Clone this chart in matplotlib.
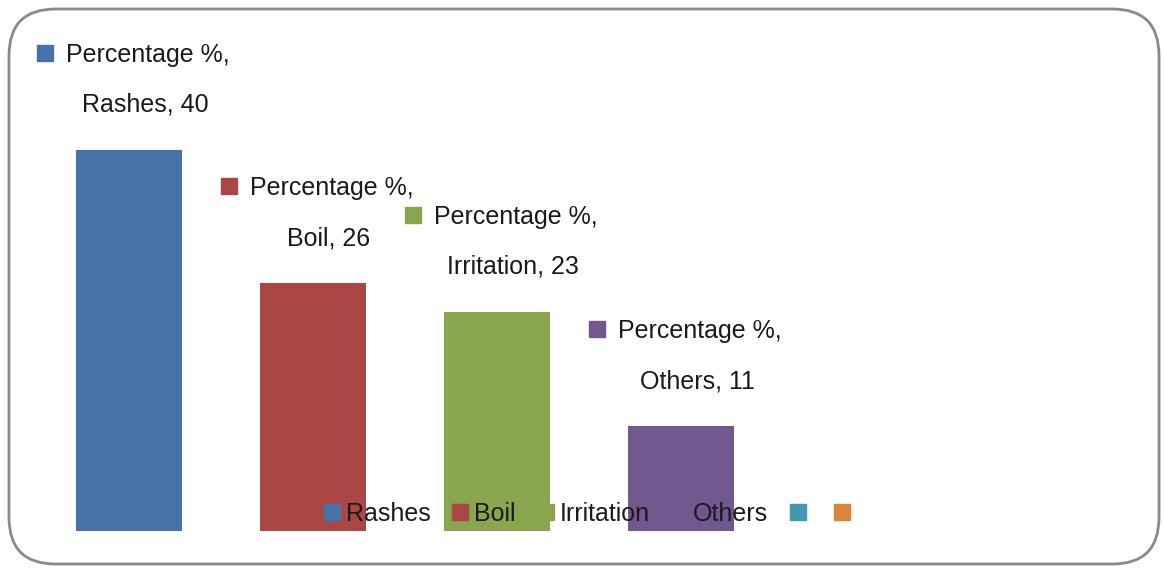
import numpy as np
import matplotlib.pyplot as plt
from matplotlib.patches import FancyBboxPatch
from matplotlib.lines import Line2D
import matplotlib.transforms as mtransforms
from matplotlib import font_manager as fm

# pick a narrow face if one is installed
names = set(f.name for f in fm.fontManager.ttflist)
narrow = [n for n in ['Liberation Sans Narrow', 'DejaVu Sans Condensed'] if n in names]
if narrow:
    plt.rcParams['font.family'] = [narrow[0], 'DejaVu Sans']
    fs = 22
else:
    plt.rcParams['font.family'] = ['Liberation Sans', 'DejaVu Sans']
    fs = 18

categories = ['Rashes', 'Boil', 'Irritation', 'Others', '', '']
values = [40, 26, 23, 11, 0, 0]
series = 'Percentage %'
colors = ['#4572A7', '#AA4643', '#89A54E', '#71588F', '#4198AF', '#DB843D']

W, H = 1164, 573
fig = plt.figure(figsize=(W / 100, H / 100), dpi=100)

# rounded chart frame
frame = FancyBboxPatch((9 / W, 9 / H), 1150 / W, 555 / H,
                       boxstyle='round,pad=0,rounding_size=0.04',
                       transform=fig.transFigure, facecolor='white',
                       edgecolor='#8a8a8a', linewidth=2, mutation_aspect=W / H,
                       zorder=-1)
fig.patches.append(frame)

ymax = 45
ax = fig.add_axes([37 / W, (H - 531) / H, 1104 / W, ymax * 9.53 / H])
ax.set_xlim(-0.5, 5.5)
ax.set_ylim(0, ymax)
ax.axis('off')

x = np.arange(len(categories))
ax.bar(x, values, width=0.58, color=colors, zorder=2)

for i in range(4):
    xi, v = x[i], values[i]
    t1 = mtransforms.offset_copy(ax.transData, fig=fig, x=19, y=95, units='dots')
    t2 = mtransforms.offset_copy(ax.transData, fig=fig, x=16, y=45, units='dots')
    tm = mtransforms.offset_copy(ax.transData, fig=fig, x=-84, y=97, units='dots')
    ax.text(xi, v, series + ',', transform=t1, ha='center', va='center',
            fontsize=fs, color='#1a1a1a', clip_on=False)
    ax.text(xi, v, '%s, %d' % (categories[i], v), transform=t2, ha='center',
            va='center', fontsize=fs, color='#1a1a1a', clip_on=False)
    ax.plot([xi], [v], marker='s', markersize=11, color=colors[i],
            transform=tm, clip_on=False, linestyle='none')

handles = [Line2D([], [], marker='s', markersize=11, color=c, linestyle='none')
           for c in colors]
leg = fig.legend(handles, categories, loc='center', ncol=6,
                 bbox_to_anchor=(590 / W, (H - 514) / H), frameon=False,
                 fontsize=fs, handlelength=0.6, handletextpad=0.25,
                 columnspacing=0.9, borderpad=0)
leg.set_zorder(5)
for t in leg.get_texts():
    t.set_color('#1a1a1a')

fig.savefig('out.png', dpi=100)
